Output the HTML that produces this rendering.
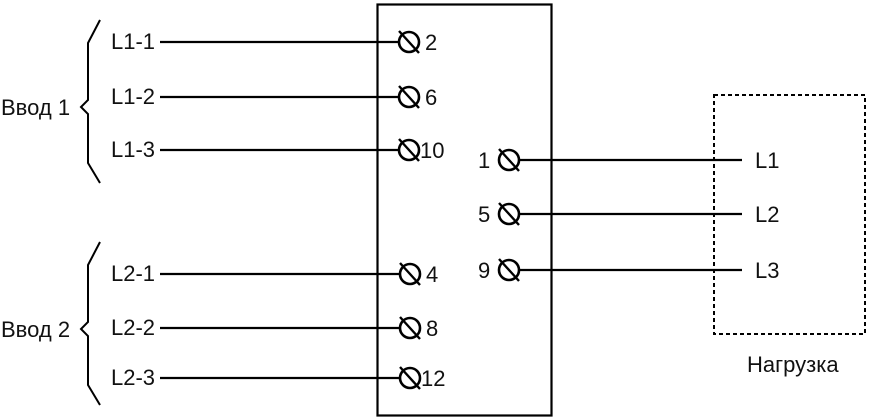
<!DOCTYPE html>
<html><head><style>body{margin:0;background:#fff}svg{display:block}text{font-family:"Liberation Sans",Arial,sans-serif;font-size:22px;fill:#111}</style></head><body>
<svg width="870" height="420" viewBox="0 0 870 420" xmlns="http://www.w3.org/2000/svg">
<defs><g id="t"><circle cx="0" cy="0" r="10" fill="#fff" stroke="#000" stroke-width="2.6"/><line x1="-10" y1="-11" x2="10" y2="11" stroke="#000" stroke-width="2.4"/></g></defs>
<rect x="377.5" y="4.5" width="174" height="411" fill="none" stroke="#000" stroke-width="2.2"/>
<g stroke="#000" stroke-width="2.2">
<line x1="160" y1="42" x2="400" y2="42"/><line x1="160" y1="97" x2="400" y2="97"/><line x1="160" y1="150" x2="400" y2="150"/>
<line x1="160" y1="274" x2="400" y2="274"/><line x1="160" y1="328" x2="400" y2="328"/><line x1="160" y1="378" x2="400" y2="378"/>
<line x1="518" y1="160" x2="742" y2="160"/><line x1="518" y1="214" x2="742" y2="214"/><line x1="518" y1="270" x2="742" y2="270"/>
</g>
<rect x="714" y="95" width="151" height="239" fill="none" stroke="#000" stroke-width="2" stroke-dasharray="4,3"/>
<g fill="none" stroke="#000" stroke-width="2">
<path d="M100 20 L88 43 L88 100 L81 107 L88 114 L88 163 L100 183"/>
<path d="M100 242 L88 265 L88 322 L81 329 L88 336 L88 385 L100 405"/>
</g>
<use href="#t" x="409" y="42"/><use href="#t" x="409" y="97"/><use href="#t" x="409" y="150"/>
<use href="#t" x="410" y="274"/><use href="#t" x="410" y="328"/><use href="#t" x="410" y="378"/>
<use href="#t" x="509" y="160"/><use href="#t" x="509" y="214"/><use href="#t" x="509" y="270"/>
<text x="111" y="49">L1-1</text><text x="111" y="104">L1-2</text><text x="111" y="157">L1-3</text>
<text x="111" y="281">L2-1</text><text x="111" y="335">L2-2</text><text x="111" y="385">L2-3</text>
<text x="1" y="115">Ввод 1</text><text x="1" y="337">Ввод 2</text>
<text x="425" y="50">2</text><text x="425" y="105">6</text><text x="420" y="158">10</text>
<text x="426" y="282">4</text><text x="426" y="336">8</text><text x="421" y="386">12</text>
<text x="478" y="168">1</text><text x="478" y="222">5</text><text x="478" y="278">9</text>
<text x="755" y="168">L1</text><text x="755" y="222">L2</text><text x="755" y="278">L3</text>
<text x="747" y="372">Нагрузка</text>
</svg>
</body></html>
